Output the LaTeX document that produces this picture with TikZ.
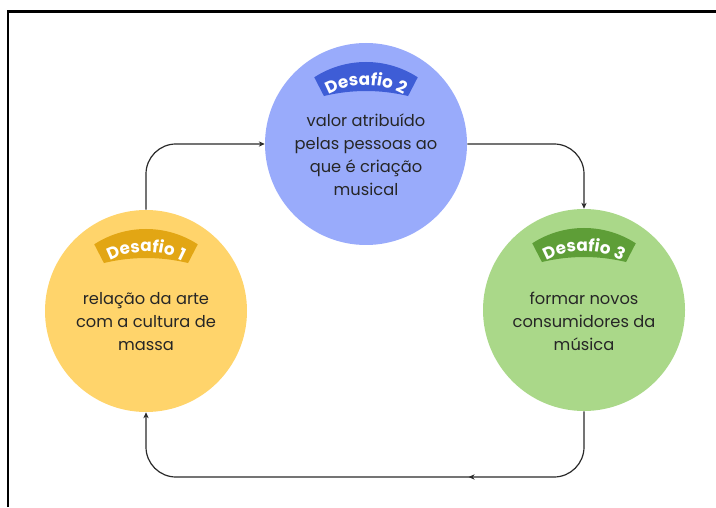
\documentclass[tikz,border=0pt]{standalone}
\usepackage{fontspec}
\setmainfont{Poppins}
\usetikzlibrary{arrows.meta,decorations.text,decorations.markings,calc}
\definecolor{cblue}{HTML}{99ABFB}
\definecolor{bblue}{HTML}{3E5DD6}
\definecolor{cyellow}{HTML}{FFD46B}
\definecolor{byellow}{HTML}{E2A614}
\definecolor{cgreen}{HTML}{AAD889}
\definecolor{bgreen}{HTML}{5E9E37}
\definecolor{lineg}{HTML}{2A2A2A}
\tikzset{
  bubble/.style={circle,minimum size=151.5pt,inner sep=0pt,draw=none},
  bodytext/.style={align=center,font=\fontsize{12.2}{17.25}\selectfont,text=black!85},
  conn/.style={draw=lineg,line width=0.9pt,rounded corners=22.5pt,-{Stealth[length=4.5pt,width=4pt]}},
}
% #1,#2 circle centre; #3 colour; #4 label
\newcommand\mybadge[4]{%
  \fill[#3] ($(#1,#2-13)+(123:71.25pt)$) arc[start angle=123,end angle=57,radius=71.25pt]
    -- ($(#1,#2-126)+(76.4:134.25pt)$) arc[start angle=76.4,end angle=103.6,radius=134.25pt] -- cycle;
  \path[decorate,decoration={text along path,text align=center,text color=white,
    text={|\bfseries\fontsize{12.6}{12.6}\selectfont|#4}}]
    ($(#1,#2-17)+(135:57pt)$) arc[start angle=135,end angle=45,radius=57pt];}
\begin{document}
\begin{tikzpicture}[x=0.75pt,y=0.75pt]
\useasboundingbox (0,0) rectangle (716,507);
\draw[line width=1.6pt,black] (8,0) -- (8,495.5) -- (716,495.5);
\node[bubble,fill=cyellow] (c1) at (146,196) {};
\node[bubble,fill=cblue] (c2) at (366,363) {};
\node[bubble,fill=cgreen] (c3) at (584,197) {};
\mybadge{146}{196}{byellow}{Desafio 1}
\mybadge{366}{363}{bblue}{Desafio 2}
\mybadge{584}{197}{bgreen}{Desafio 3}
\node[bodytext] (t1) at ($(c1.center)+(0,-11)$) {relação da arte\\com a cultura de\\massa};
\node[bodytext] (t2) at ($(c2.center)+(0,-11)$) {valor atribuído\\pelas pessoas ao\\que é criação\\musical};
\node[bodytext] (t3) at ($(c3.center)+(0,-11)$) {formar novos\\consumidores da\\música};
\coordinate (br) at (c3.south |- 0,30);
\coordinate (bl) at (c1.south |- 0,30);
\draw[conn] (c1.north) |- (c2.west);
\draw[conn] (c2.east) -| (c3.north);
\draw[conn,postaction={decorate},decoration={markings,mark=at position 0.31 with {\arrow{Stealth[length=4.5pt,width=4pt]}}}]
  (c3.south) -- (br) -- (bl) -- (c1.south);
\end{tikzpicture}
\end{document}
